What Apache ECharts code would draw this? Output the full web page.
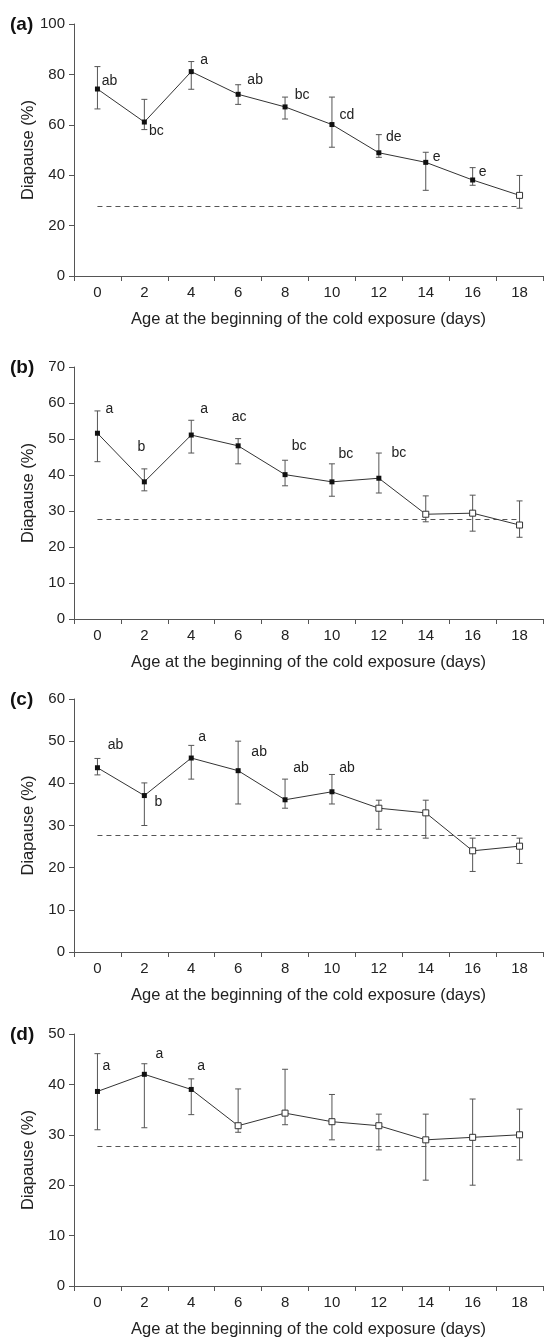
<!DOCTYPE html>
<html><head><meta charset="utf-8">
<script src="https://cdn.jsdelivr.net/npm/echarts@6/dist/echarts.min.js"></script>
<style>html,body{margin:0;padding:0;background:#fff}#c{width:546px;height:1339px}</style>
</head><body><div id="c"></div>
<script>
// ---- data ----
const ages = ['0','2','4','6','8','10','12','14','16','18'];

// Panel (a)
const meanA   = [74.2, 61.1, 81.1, 72.1, 67.1, 60.1, 48.9, 45.1, 38.1, 32.0];
const upperA  = [83.1, 70.1, 85.1, 75.9, 71.0, 71.0, 56.1, 49.1, 43.0, 39.9];
const lowerA  = [66.3, 58.1, 74.1, 68.1, 62.3, 51.1, 47.1, 34.0, 36.0, 26.9];
const filledA = [1, 1, 1, 1, 1, 1, 1, 1, 1, 0];
const lettersA = ['ab', 'bc', 'a', 'ab', 'bc', 'cd', 'de', 'e', 'e', ''];
const controlA = 27.6;

// Panel (b)
const meanB   = [51.6, 38.1, 51.1, 48.1, 40.1, 38.1, 39.1, 29.1, 29.4, 26.1];
const upperB  = [57.8, 41.7, 55.2, 50.1, 44.1, 43.1, 46.1, 34.2, 34.4, 32.8];
const lowerB  = [43.7, 35.6, 46.1, 43.1, 37.0, 34.1, 35.0, 27.0, 24.4, 22.7];
const filledB = [1, 1, 1, 1, 1, 1, 1, 0, 0, 0];
const lettersB = ['a', 'b', 'a', 'ac', 'bc', 'bc', 'bc', '', '', ''];
const controlB = 27.8;

// Panel (c)
const meanC   = [43.7, 37.1, 46.0, 43.0, 36.1, 38.0, 34.1, 33.0, 24.0, 25.1];
const upperC  = [45.9, 40.1, 49.0, 50.0, 41.0, 42.1, 36.0, 36.0, 27.0, 27.0];
const lowerC  = [42.0, 30.0, 41.0, 35.1, 34.1, 35.1, 29.1, 27.0, 19.1, 21.0];
const filledC = [1, 1, 1, 1, 1, 1, 0, 0, 0, 0];
const lettersC = ['ab', 'b', 'a', 'ab', 'ab', 'ab', '', '', '', ''];
const controlC = 27.7;

// Panel (d)
const meanD   = [38.6, 42.0, 39.0, 31.8, 34.3, 32.6, 31.8, 29.0, 29.5, 30.0];
const upperD  = [46.1, 44.1, 41.1, 39.1, 43.0, 38.0, 34.1, 34.1, 37.1, 35.1];
const lowerD  = [31.0, 31.4, 34.0, 30.5, 32.0, 29.0, 27.0, 21.0, 20.0, 25.0];
const filledD = [1, 1, 1, 0, 0, 0, 0, 0, 0, 0];
const lettersD = ['a', 'a', 'a', '', '', '', '', '', '', ''];
const controlD = 27.8;

const panelLabels = ['(a)', '(b)', '(c)', '(d)'];
const yMax = [100, 70, 60, 50];
const yStep = [20, 10, 10, 10];

// ---- layout (pixel offsets of significance letters from their point) ----
const letterOffsets = [
  [[12,-8],[12,9],[13,-11],[17,-14],[17,-12],[15,-9],[15,-16],[11,-5],[10,-8],[0,0]],
  [[12,-24],[-3,-35],[13,-26],[1,-29],[14,-28],[14,-28],[20,-25],[0,0],[0,0],[0,0]],
  [[18,-23],[14,7],[11,-21],[21,-19],[16,-32],[15,-24],[0,0],[0,0],[0,0],[0,0]],
  [[9,-25],[15,-20],[10,-23],[0,0],[0,0],[0,0],[0,0],[0,0],[0,0],[0,0]]
];
const gridTops = [24, 367, 699, 1034];
const gridHeights = [252, 252, 253, 253];
const labelTops = [15, 358, 690, 1025];

const panels = [
  {mean: meanA, upper: upperA, lower: lowerA, filled: filledA, letters: lettersA, control: controlA},
  {mean: meanB, upper: upperB, lower: lowerB, filled: filledB, letters: lettersB, control: controlB},
  {mean: meanC, upper: upperC, lower: lowerC, filled: filledC, letters: lettersC, control: controlC},
  {mean: meanD, upper: upperD, lower: lowerD, filled: filledD, letters: lettersD, control: controlD}
];

const FONT = '"Liberation Sans", Arial, sans-serif';
const TXT = '#222';
const AX = '#555';

const grid = [], xAxis = [], yAxis = [], series = [], title = [];

panels.forEach((p, k) => {
  grid.push({left: 74, right: 3, top: gridTops[k], height: gridHeights[k]});
  title.push({
    text: panelLabels[k], left: 10, top: labelTops[k], padding: 0,
    textStyle: {fontFamily: FONT, fontSize: 19, fontWeight: 'bold', color: '#111'}
  });
  xAxis.push({
    type: 'category', gridIndex: k, data: ages, boundaryGap: true,
    axisLine: {show: true, lineStyle: {color: AX, width: 1}},
    axisTick: {show: true, alignWithLabel: false, interval: 0, length: 5, lineStyle: {color: AX}},
    axisLabel: {interval: 0, fontSize: 15, color: TXT, fontFamily: FONT, margin: 9},
    splitLine: {show: false},
    name: 'Age at the beginning of the cold exposure (days)',
    nameLocation: 'middle', nameGap: 35, nameMoveOverlap: false,
    nameTextStyle: {fontSize: 16.5, color: TXT, fontFamily: FONT}
  });
  yAxis.push({
    type: 'value', gridIndex: k, min: 0, max: yMax[k], interval: yStep[k],
    axisLine: {show: true, lineStyle: {color: AX, width: 1}},
    axisTick: {show: true, length: 5, lineStyle: {color: AX}},
    axisLabel: {fontSize: 15, color: TXT, fontFamily: FONT, margin: 9},
    splitLine: {show: false},
    name: 'Diapause (%)', nameLocation: 'middle', nameGap: 37, nameMoveOverlap: false,
    nameTextStyle: {fontSize: 16.5, color: TXT, fontFamily: FONT}
  });

  // error bars + letters
  const offs = letterOffsets[k];
  series.push({
    type: 'custom', xAxisIndex: k, yAxisIndex: k, silent: true, z: 2,
    data: ages.map((a, i) => [i, p.lower[i], p.upper[i], p.mean[i]]),
    renderItem: function (params, api) {
      const i = api.value(0);
      const lo = api.coord([i, api.value(1)]);
      const hi = api.coord([i, api.value(2)]);
      const m = api.coord([i, api.value(3)]);
      const cap = 3;
      const st = {stroke: '#555', lineWidth: 1};
      const children = [
        {type: 'line', shape: {x1: lo[0], y1: lo[1], x2: hi[0], y2: hi[1]}, style: st},
        {type: 'line', shape: {x1: hi[0] - cap, y1: hi[1], x2: hi[0] + cap, y2: hi[1]}, style: st},
        {type: 'line', shape: {x1: lo[0] - cap, y1: lo[1], x2: lo[0] + cap, y2: lo[1]}, style: st}
      ];
      const letter = p.letters[i];
      if (letter) {
        children.push({
          type: 'text', z2: 10,
          style: {
            text: letter, x: m[0] + offs[i][0], y: m[1] + offs[i][1],
            align: 'center', verticalAlign: 'middle',
            font: '14px ' + FONT, fill: '#222'
          }
        });
      }
      return {type: 'group', children: children};
    }
  });

  // mean line with markers and control dashed line
  series.push({
    type: 'line', xAxisIndex: k, yAxisIndex: k, z: 5,
    symbol: 'rect', symbolSize: 5, showAllSymbol: true,
    lineStyle: {color: '#333', width: 1},
    data: p.mean.map((v, i) => ({
      value: v,
      symbolSize: p.filled[i] ? 5 : 6,
      itemStyle: p.filled[i]
        ? {color: '#111', borderColor: '#111', borderWidth: 0}
        : {color: '#fff', borderColor: '#333', borderWidth: 1}
    })),
    animation: false,
    markLine: {
      silent: true, symbol: 'none', animation: false,
      label: {show: false},
      lineStyle: {color: '#555', type: [5, 4], width: 1},
      emphasis: {disabled: true},
      data: [[{coord: [ages[0], p.control]}, {coord: [ages[ages.length - 1], p.control]}]]
    }
  });
});

const chart = echarts.init(document.getElementById('c'), null, {renderer: 'canvas'});
chart.setOption({
  animation: false,
  backgroundColor: '#fff',
  title: title, grid: grid, xAxis: xAxis, yAxis: yAxis, series: series
});
</script>
</body></html>
